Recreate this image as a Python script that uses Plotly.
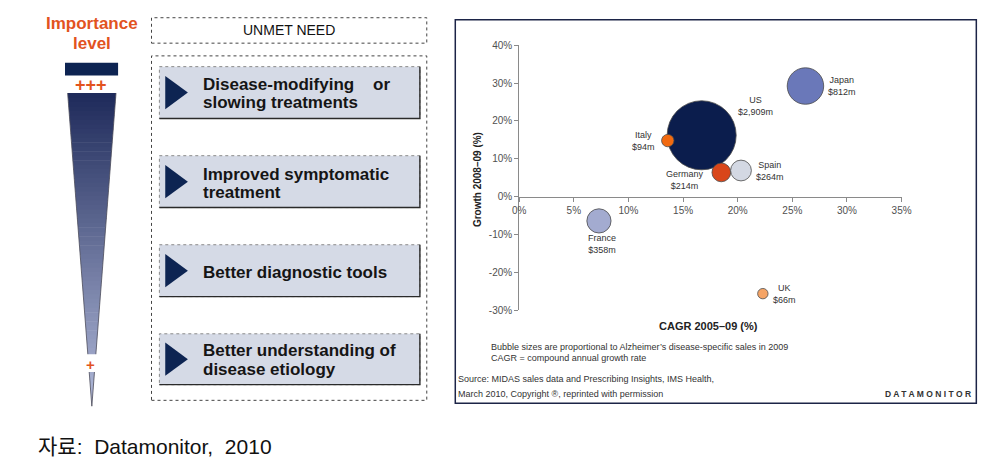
import plotly.graph_objects as go

W, H = 1005, 466

# ---------------- data ----------------
countries = ["US", "Japan", "Italy", "Germany", "Spain", "France", "UK"]
cagr_2005_09 = [16.7, 26.2, 13.6, 18.5, 20.3, 7.3, 22.3]          # x, %
growth_2008_09 = [16.2, 29.2, 14.8, 6.4, 6.9, -6.4, -25.6]         # y, %
sales_2009_musd = [2909, 812, 94, 214, 264, 358, 66]               # bubble size
sales_labels = ["$2,909m", "$812m", "$94m", "$214m", "$264m", "$358m", "$66m"]

x_tick_values = [0, 5, 10, 15, 20, 25, 30, 35]
y_tick_values = [-30, -20, -10, 0, 10, 20, 30, 40]

unmet_needs = [
    ["Disease-modifying\u00a0\u00a0\u00a0 or", "slowing treatments"],
    ["Improved symptomatic", "treatment"],
    ["Better diagnostic tools"],
    ["Better understanding of", "disease etiology"],
]
importance_top = "+++"
importance_bottom = "+"

# ---------------- styles ----------------
FONT = "Liberation Sans, Arial, Helvetica, sans-serif"
KFONT = "Liberation Sans, Noto Sans CJK KR, sans-serif"
NAVY = "#0d2452"
ORANGE = "#e2531f"
bubble_colors = ["#0b1d4d", "#6a78b9", "#f26a10", "#d9461a", "#d3d8e3", "#a3abd0", "#f5a466"]
label_offsets = [(54, 29), (37, 0), (-24, 0), (-36, -8), (29, 0), (3, -23), (22, 0)]
BUBBLE_K = 0.64  # px of radius per sqrt($m)

X_LEFT, X_RIGHT = 521, 910
Y_TOP, Y_BOT = 41, 312


def px(x):
    return x / W


def py(y):
    return 1 - y / H


fig = go.Figure()

fig.add_trace(go.Scatter(
    x=cagr_2005_09, y=growth_2008_09, mode="markers",
    marker=dict(size=sales_2009_musd, sizemode="area", sizeref=1 / (2 * BUBBLE_K ** 2),
                color=bubble_colors, opacity=1,
                line=dict(color="#4a4a4a", width=0.8)),
    hoverinfo="skip", showlegend=False, cliponaxis=False,
))

y_dom = [py(Y_BOT), py(Y_TOP)]
y_rng = [-30, 40]
x_pos = y_dom[0] + (0 - y_rng[0]) / (y_rng[1] - y_rng[0]) * (y_dom[1] - y_dom[0])

axis_style = dict(showline=True, linecolor="#8a8a8a", linewidth=1, ticks="outside",
                  ticklen=4, tickcolor="#8a8a8a", tickwidth=1,
                  tickfont=dict(size=10, color="#505050", family=FONT),
                  showgrid=False, zeroline=False, fixedrange=True)

fig.update_layout(
    width=W, height=H, margin=dict(l=0, r=0, t=0, b=0),
    paper_bgcolor="white", plot_bgcolor="rgba(0,0,0,0)",
    font=dict(family=FONT, color="#333"),
    xaxis=dict(domain=[px(X_LEFT), px(X_RIGHT)], range=[0, 35],
               tickvals=x_tick_values, ticktext=[f"{v}%" for v in x_tick_values],
               anchor="free", position=x_pos, **axis_style),
    yaxis=dict(domain=y_dom, range=y_rng,
               tickvals=y_tick_values, ticktext=[f"{v}%" for v in y_tick_values],
               **axis_style),
    showlegend=False,
)

shapes = []
ann = []


def rect(x0, y0, x1, y1, fill=None, color=None, width=1, dash="solid", layer="above"):
    shapes.append(dict(type="rect", xref="paper", yref="paper",
                       x0=px(x0), y0=py(y1), x1=px(x1), y1=py(y0),
                       fillcolor=fill if fill else "rgba(0,0,0,0)",
                       line=dict(color=color if color else "rgba(0,0,0,0)", width=width if color else 0, dash=dash),
                       layer=layer))


def path(points, fill=None, color=None, width=1, close=True):
    d = "M " + " L ".join(f"{px(x):.5f},{py(y):.5f}" for x, y in points) + (" Z" if close else "")
    shapes.append(dict(type="path", xref="paper", yref="paper", path=d,
                       fillcolor=fill if fill else "rgba(0,0,0,0)",
                       line=dict(color=color if color else "rgba(0,0,0,0)", width=width if color else 0),
                       layer="above"))


def text(x, y, s, size, color="#333", bold=False, xanchor="center", align="center", family=FONT, angle=0):
    ann.append(dict(x=px(x), y=py(y), xref="paper", yref="paper", text=f"<b>{s}</b>" if bold else s,
                    showarrow=False, xanchor=xanchor, yanchor="middle", align=align, textangle=angle,
                    font=dict(size=size, color=color, family=family)))


# ---------- left: importance level ----------
text(86, 19, "Importance", 17, ORANGE, bold=True)
text(86, 39, "level", 17, ORANGE, bold=True)
rect(59, 59, 113, 72, fill=NAVY)
text(85, 82, importance_top, 18, ORANGE, bold=True)

TRI_TOP, TRI_TIP, TRI_CX, TRI_HW = 90, 410, 86.3, 24.6
c0, c1 = (30, 42, 90), (178, 186, 218)
N = 70
step = (TRI_TIP - TRI_TOP) / N
for i in range(N):
    ya = TRI_TOP + i * step
    yb = min(ya + step + 0.6, TRI_TIP)
    t = (ya + step / 2 - TRI_TOP) / (TRI_TIP - TRI_TOP)
    col = "rgb(%d,%d,%d)" % tuple(round(a + (b - a) * t) for a, b in zip(c0, c1))
    hwa = TRI_HW * (TRI_TIP - ya) / (TRI_TIP - TRI_TOP)
    hwb = TRI_HW * (TRI_TIP - yb) / (TRI_TIP - TRI_TOP)
    path([(TRI_CX - hwa, ya), (TRI_CX + hwa, ya), (TRI_CX + hwb, yb), (TRI_CX - hwb, yb)], fill=col)
path([(TRI_CX - TRI_HW, TRI_TOP), (TRI_CX, TRI_TIP), (TRI_CX + TRI_HW, TRI_TOP)], color="#4d4d5a", width=0.8, close=False)
rect(68, 357, 104, 375, fill="white")
text(85, 367, importance_bottom, 15, ORANGE, bold=True)

# ---------- middle: unmet needs ----------
rect(147, 13, 427, 39, color="#444", width=1, dash="dot")
text(287, 26, "UNMET NEED", 14, "#111")
rect(147, 52, 427, 404, color="#444", width=1, dash="dot")

box_y = [(63, 116), (154, 207), (245, 298), (336, 388)]
line_y = [(81, 100), (173, 192), (273,), (353, 373)]
for (y0, y1), lines, ys in zip(box_y, unmet_needs, line_y):
    rect(155, y0, 420, y1, fill="#d5dae6", color="#8a8a8a", width=1, dash="dot")
    path([(420, y0), (420, y1), (155, y1)], color="#2a2a2a", width=1.4, close=False)
    cy = (y0 + y1) / 2
    path([(161, cy - 17), (161, cy + 17), (184, cy)], fill=NAVY)
    for s, yy in zip(lines, ys):
        text(197, yy, s, 17, "#151515", bold=True, xanchor="left", align="left")

# ---------- right: bubble chart ----------
rect(456, 15, 986, 407, color="#1c2447", width=1.5, layer="below")
for name, lab, xv, yv, (dx, dy) in zip(countries, sales_labels, cagr_2005_09, growth_2008_09, label_offsets):
    ann.append(dict(x=xv, y=yv, xref="x", yref="y", text=f"{name}<br>{lab}", showarrow=False,
                    xshift=dx, yshift=dy, xanchor="center", yanchor="middle", align="center",
                    font=dict(size=9, color="#333", family=FONT)))

text(714, 328, "CAGR 2005\u201309 (%)", 11, "#222", bold=True)
text(478, 178, "Growth 2008\u201309 (%)", 10, "#222", bold=True, angle=-90)
text(490, 350, "Bubble sizes are proportional to Alzheimer\u2019s disease-specific sales in 2009", 9, "#333",
     xanchor="left", align="left")
text(490, 361, "CAGR = compound annual growth rate", 9, "#333", xanchor="left", align="left")
text(457, 382, "Source: MIDAS sales data and Prescribing Insights, IMS Health,", 9, "#333",
     xanchor="left", align="left")
text(457, 398, "March 2010, Copyright \u00ae, reprinted with permission", 9, "#333", xanchor="left", align="left")
text(983, 398, "D A T A M O N I T O R", 8.5, "#333", bold=True, xanchor="right", align="right")

# ---------- caption ----------
text(30, 451, "자료:  Datamonitor,  2010", 21, "#111", xanchor="left", align="left", family=KFONT)

fig.update_layout(shapes=shapes, annotations=ann)
fig.write_html("out.html")
